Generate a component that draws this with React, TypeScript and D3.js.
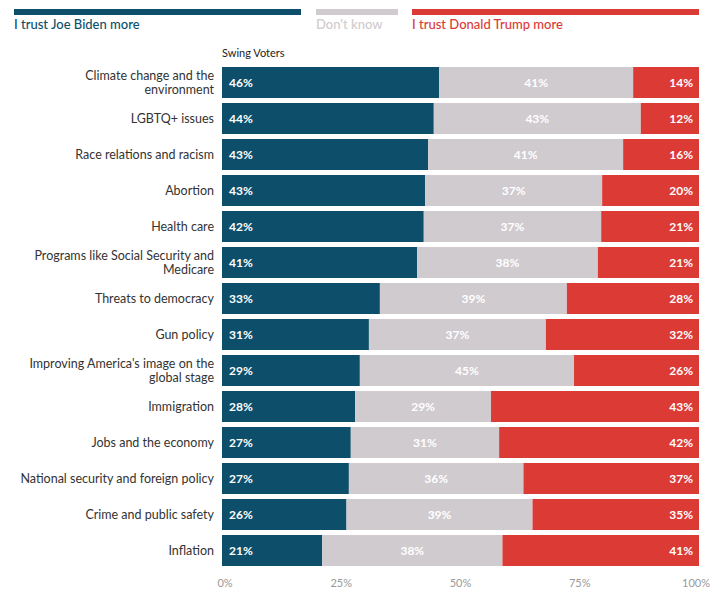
import React from "react";
import * as d3 from "d3";

const categories = [
  "Climate change and the environment",
  "LGBTQ+ issues",
  "Race relations and racism",
  "Abortion",
  "Health care",
  "Programs like Social Security and Medicare",
  "Threats to democracy",
  "Gun policy",
  "Improving America's image on the global stage",
  "Immigration",
  "Jobs and the economy",
  "National security and foreign policy",
  "Crime and public safety",
  "Inflation",
];
const biden = [45.5, 44.4, 43.2, 42.6, 42.3, 40.9, 33.1, 30.8, 28.9, 27.9, 27.0, 26.6, 26.1, 21.0];
const dontKnow = [40.7, 43.4, 40.9, 37.1, 37.2, 37.9, 39.2, 37.1, 44.9, 28.5, 31.1, 36.6, 39.0, 37.8];
const trump = [13.8, 12.2, 15.9, 20.3, 20.5, 21.2, 27.7, 32.1, 26.2, 43.6, 41.9, 36.8, 34.9, 41.2];
const bidenLabels = [46, 44, 43, 43, 42, 41, 33, 31, 29, 28, 27, 27, 26, 21];
const dkLabels = [41, 43, 41, 37, 37, 38, 39, 37, 45, 29, 31, 36, 39, 38];
const trumpLabels = [14, 12, 16, 20, 21, 21, 28, 32, 26, 43, 42, 37, 35, 41];
const seriesNames = ["I trust Joe Biden more", "Don't know", "I trust Donald Trump more"];
const ticks = [0, 25, 50, 75, 100];
const groupTitle = "Swing Voters";

const COLORS = ["#0d4f6b", "#d0cbcf", "#dc3a35"];
const FONT = "Lato, 'Open Sans', sans-serif";
const CAT_SIZE = 12.5;

function wrap(text: string, maxW: number, font: string): string[] {
  const ctx = document.createElement("canvas").getContext("2d")!;
  ctx.font = font;
  const words = text.split(" ");
  const lines: string[] = [];
  let cur = "";
  for (const w of words) {
    const t = cur ? cur + " " + w : w;
    if (ctx.measureText(t).width > maxW && cur) {
      lines.push(cur);
      cur = w;
    } else cur = t;
  }
  if (cur) lines.push(cur);
  return lines;
}

export default function App() {
  const W = 712, H = 590;
  const x = d3.scaleLinear().domain([0, 100]).range([222, 699]);
  const y = d3
    .scaleBand<string>()
    .domain(categories)
    .range([64.5, 568.5])
    .paddingInner(5 / 36)
    .paddingOuter(2.5 / 36);
  const bh = y.bandwidth();

  const legend = [
    { x0: 14, x1: 301 },
    { x0: 316, x1: 398 },
    { x0: 412, x1: 699 },
  ];

  return (
    <svg width={W} height={H} style={{ position: "absolute", left: 0, top: 0, fontFamily: FONT }}>
      {legend.map((l, i) => (
        <g key={i}>
          <rect x={l.x0} y={9} width={l.x1 - l.x0} height={6} fill={COLORS[i]} />
          <text x={l.x0} y={29} fontSize={13} fontWeight={500} fill={COLORS[i]}>
            {seriesNames[i]}
          </text>
        </g>
      ))}
      <text x={222} y={57} fontSize={11} fill="#222">
        {groupTitle}
      </text>
      {categories.map((c, i) => {
        const y0 = y(c)!;
        const cy = y0 + bh / 2;
        const b = biden[i], d = dontKnow[i], t = trump[i];
        const lines = wrap(c, 196, `${CAT_SIZE}px Lato`);
        return (
          <g key={c}>
            <rect x={x(0)} y={y0} width={x(b) - x(0)} height={bh} fill={COLORS[0]} />
            <rect x={x(b)} y={y0} width={x(b + d) - x(b)} height={bh} fill={COLORS[1]} />
            <rect x={x(b + d)} y={y0} width={x(b + d + t) - x(b + d)} height={bh} fill={COLORS[2]} />
            <text x={x(0) + 7} y={cy} dy="0.35em" fontSize={12} fontWeight={700} fill="#fff">
              {bidenLabels[i]}%
            </text>
            <text x={x(b + d / 2)} y={cy} dy="0.35em" fontSize={12} fontWeight={700} fill="#fff" textAnchor="middle">
              {dkLabels[i]}%
            </text>
            <text x={x(b + d + t) - 6} y={cy} dy="0.35em" fontSize={12} fontWeight={700} fill="#fff" textAnchor="end">
              {trumpLabels[i]}%
            </text>
            {lines.map((ln, k) => (
              <text
                key={k}
                x={214}
                y={cy + (k - (lines.length - 1) / 2) * 13.5}
                dy="0.35em"
                fontSize={CAT_SIZE}
                fill="#333"
                textAnchor="end"
              >
                {ln}
              </text>
            ))}
          </g>
        );
      })}
      {ticks.map((tk) => (
        <text key={tk} x={x(tk) + (tk === 0 ? 3 : tk === 100 ? -3 : 0)} y={587} fontSize={11} fill="#999" textAnchor="middle">
          {tk}%
        </text>
      ))}
    </svg>
  );
}
